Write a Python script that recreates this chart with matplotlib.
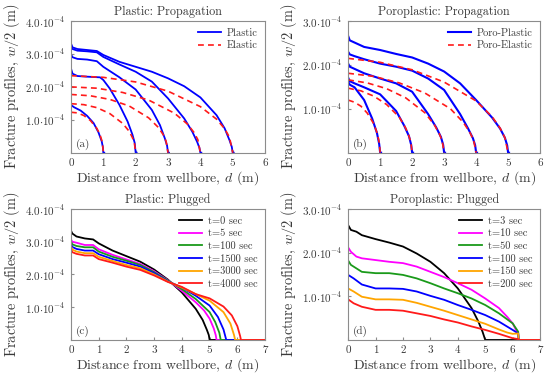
#perfis de fratura: plastico x elastico, propagacao e tamponamento
import matplotlib
matplotlib.use('Agg')
import matplotlib.pyplot as plt

plt.rcParams['font.family'] = 'serif'
plt.rcParams['font.serif'] = ['cmr10']
plt.rcParams['mathtext.fontset'] = 'cm'
plt.rcParams['axes.unicode_minus'] = False
plt.rcParams['axes.formatter.use_mathtext'] = True

ESCALA = 1e-4  # valores lidos em unidades de 1e-4 m

# (a) Plastic: Propagation
a_plastic_x = [
    [0, 0.1, 0.3, 0.5, 0.7, 0.85, 0.95, 0.99, 1.0, 1.03],
    [0, 0.05, 0.2, 0.5, 0.9, 1.0, 1.2, 1.5, 1.75, 1.9, 1.97, 2.0, 2.03],
    [0, 0.05, 0.2, 0.5, 0.8, 1.0, 1.5, 2.0, 2.5, 2.75, 2.9, 2.97, 3.0, 3.03],
    [0, 0.05, 0.2, 0.5, 0.8, 1.0, 1.5, 2.0, 2.5, 3.0, 3.5, 3.75, 3.9, 3.97, 4.0, 4.03],
    [0, 0.05, 0.2, 0.5, 0.8, 1.0, 1.5, 2.0, 2.5, 3.0, 3.5, 4.0, 4.5, 4.75, 4.9, 4.97, 5.0, 5.03],
]
a_plastic_y = [
    [1.45, 1.38, 1.28, 1.12, 0.9, 0.62, 0.35, 0.15, 0, 0],
    [2.56, 2.4, 2.33, 2.31, 2.29, 2.21, 1.95, 1.45, 0.95, 0.55, 0.3, 0, 0],
    [2.99, 2.9, 2.85, 2.83, 2.78, 2.61, 2.29, 1.92, 1.3, 0.84, 0.44, 0.22, 0, 0],
    [3.25, 3.15, 3.1, 3.08, 3.05, 2.91, 2.68, 2.46, 2.16, 1.65, 1.04, 0.64, 0.33, 0.15, 0, 0],
    [3.32, 3.2, 3.15, 3.12, 3.09, 2.97, 2.76, 2.61, 2.46, 2.26, 2.02, 1.68, 1.14, 0.74, 0.38, 0.18, 0, 0],
]
a_elastic_x = [
    [0, 0.2, 0.4, 0.6, 0.8, 0.9, 0.95, 0.98, 1.0],
    [0, 0.4, 0.8, 1.2, 1.6, 1.8, 1.9, 1.96, 2.0],
    [0, 0.6, 1.2, 1.8, 2.4, 2.7, 2.85, 2.94, 3.0],
    [0, 0.8, 1.6, 2.4, 3.2, 3.6, 3.8, 3.92, 4.0],
    [0, 1.0, 2.0, 3.0, 4.0, 4.5, 4.75, 4.9, 5.0],
]
a_elastic_y = [
    [1.23, 1.21, 1.13, 0.98, 0.74, 0.54, 0.38, 0.25, 0],
    [1.49, 1.46, 1.37, 1.19, 0.89, 0.65, 0.46, 0.30, 0],
    [1.77, 1.73, 1.62, 1.42, 1.06, 0.77, 0.55, 0.35, 0],
    [2.0, 1.96, 1.83, 1.6, 1.2, 0.87, 0.62, 0.4, 0],
    [2.34, 2.29, 2.15, 1.87, 1.4, 1.02, 0.73, 0.47, 0],
]

# (b) Poroplastic: Propagation
b_plastic_x = [
    [0, 0.05, 0.2, 0.5, 0.75, 0.9, 0.97, 1.0, 1.03],
    [0, 0.05, 0.2, 0.5, 1.0, 1.5, 1.75, 1.9, 1.97, 2.0, 2.03],
    [0, 0.05, 0.2, 0.5, 1.0, 1.5, 2.0, 2.5, 2.75, 2.9, 2.97, 3.0, 3.03],
    [0, 0.05, 0.2, 0.5, 1.0, 1.5, 2.0, 2.5, 3.0, 3.5, 3.75, 3.9, 3.97, 4.0, 4.03],
    [0, 0.05, 0.2, 0.5, 1.0, 1.5, 2.0, 2.5, 3.0, 3.5, 4.0, 4.5, 4.75, 4.9, 4.97, 5.0, 5.03],
]
b_plastic_y = [
    [1.62, 1.55, 1.49, 1.2, 0.78, 0.45, 0.2, 0, 0],
    [1.71, 1.63, 1.58, 1.49, 1.33, 0.95, 0.62, 0.38, 0.18, 0, 0],
    [2.03, 1.96, 1.91, 1.81, 1.69, 1.58, 1.39, 0.88, 0.58, 0.36, 0.18, 0, 0],
    [2.3, 2.24, 2.2, 2.13, 2.03, 1.96, 1.87, 1.69, 1.43, 0.88, 0.55, 0.33, 0.17, 0, 0],
    [2.66, 2.56, 2.51, 2.41, 2.34, 2.25, 2.17, 2.03, 1.85, 1.58, 1.2, 0.8, 0.55, 0.34, 0.17, 0, 0],
]
b_elastic_x = a_elastic_x
b_elastic_y = [
    [1.2, 1.15, 1.06, 0.9, 0.66, 0.46, 0.31, 0.19, 0],
    [1.47, 1.41, 1.29, 1.1, 0.81, 0.56, 0.38, 0.24, 0],
    [1.66, 1.59, 1.46, 1.25, 0.91, 0.63, 0.43, 0.27, 0],
    [1.81, 1.74, 1.59, 1.36, 1.0, 0.69, 0.47, 0.29, 0],
    [2.15, 2.06, 1.89, 1.61, 1.18, 0.82, 0.56, 0.34, 0],
]

# (c) Plastic: Plugged
c_labels = ['t=0 sec', 't=5 sec', 't=100 sec', 't=1500 sec', 't=3000 sec', 't=4000 sec']
c_x = [
    [0, 0.05, 0.2, 0.5, 0.8, 1.0, 1.5, 2.0, 2.5, 3.0, 3.5, 4.0, 4.5, 4.75, 4.9, 4.97, 5.0, 7.0],
    [0, 0.05, 0.2, 0.5, 0.8, 1.0, 1.5, 2.0, 2.5, 3.0, 3.5, 4.0, 4.5, 4.8, 5.0, 5.15, 5.22, 5.25, 7.0],
    [0, 0.05, 0.2, 0.5, 0.8, 1.0, 1.5, 2.0, 2.5, 3.0, 3.5, 4.0, 4.5, 5.0, 5.2, 5.35, 5.4, 7.0],
    [0, 0.05, 0.2, 0.5, 0.8, 1.0, 1.5, 2.0, 2.5, 3.0, 3.5, 4.0, 4.5, 5.0, 5.3, 5.5, 5.6, 7.0],
    [0, 0.05, 0.2, 0.5, 0.8, 1.0, 1.5, 2.0, 2.5, 3.0, 3.5, 4.0, 4.5, 5.0, 5.5, 5.75, 5.88, 5.92, 7.0],
    [0, 0.05, 0.2, 0.5, 0.8, 1.0, 1.5, 2.0, 2.5, 3.0, 3.5, 4.0, 4.5, 5.0, 5.5, 5.8, 6.0, 6.1, 6.13, 7.0],
]
c_y = [
    [3.34, 3.25, 3.16, 3.1, 3.07, 2.95, 2.73, 2.56, 2.39, 2.15, 1.84, 1.45, 0.95, 0.61, 0.31, 0.15, 0, 0],
    [3.07, 3.0, 2.97, 2.9, 2.9, 2.77, 2.6, 2.46, 2.32, 2.1, 1.82, 1.5, 1.15, 0.9, 0.65, 0.35, 0.15, 0, 0],
    [3.0, 2.92, 2.87, 2.83, 2.83, 2.7, 2.54, 2.42, 2.29, 2.07, 1.81, 1.55, 1.25, 0.85, 0.55, 0.22, 0, 0],
    [2.93, 2.84, 2.78, 2.73, 2.73, 2.62, 2.47, 2.36, 2.24, 2.04, 1.79, 1.6, 1.35, 1.05, 0.7, 0.32, 0, 0],
    [2.87, 2.76, 2.7, 2.65, 2.65, 2.54, 2.41, 2.29, 2.19, 2.0, 1.78, 1.6, 1.4, 1.2, 0.85, 0.5, 0.15, 0, 0],
    [2.77, 2.68, 2.63, 2.58, 2.58, 2.47, 2.36, 2.24, 2.14, 1.97, 1.77, 1.62, 1.4, 1.27, 1.02, 0.75, 0.42, 0.12, 0, 0],
]
c_cores = ['black', '#ff00ff', '#1a9a1a', '#0000ff', '#ffa500', '#ff1a1a']

# (d) Poroplastic: Plugged
d_labels = ['t=3 sec', 't=10 sec', 't=50 sec', 't=100 sec', 't=150 sec', 't=200 sec']
d_x = [
    [0, 0.1, 0.3, 0.5, 1.0, 1.5, 2.0, 2.5, 3.0, 3.5, 4.0, 4.5, 4.75, 4.9, 5.0, 7.0],
    [0, 0.1, 0.3, 0.5, 1.0, 1.5, 2.0, 2.5, 3.0, 3.5, 4.0, 4.5, 5.0, 5.5, 5.8, 6.0, 6.15, 6.2, 6.22, 7.0],
    [0, 0.1, 0.3, 0.5, 1.0, 1.5, 2.0, 2.5, 3.0, 3.5, 4.0, 4.5, 5.0, 5.5, 6.0, 6.2, 6.22, 7.0],
    [0, 0.2, 0.5, 1.0, 1.5, 2.0, 2.5, 3.0, 3.5, 4.0, 4.5, 5.0, 5.5, 6.0, 6.2, 6.22, 7.0],
    [0, 0.2, 0.5, 1.0, 1.5, 2.0, 2.5, 3.0, 3.5, 4.0, 4.5, 5.0, 5.5, 5.8, 6.0, 6.2, 6.22, 7.0],
    [0, 0.2, 0.5, 1.0, 1.5, 2.0, 2.5, 3.0, 3.5, 4.0, 4.5, 5.0, 5.5, 5.8, 6.0, 6.2, 6.22, 7.0],
]
d_y = [
    [2.63, 2.52, 2.48, 2.4, 2.31, 2.23, 2.14, 1.98, 1.79, 1.53, 1.18, 0.73, 0.42, 0.19, 0, 0],
    [2.12, 2.02, 1.91, 1.87, 1.83, 1.79, 1.76, 1.68, 1.56, 1.44, 1.3, 1.15, 0.95, 0.73, 0.53, 0.38, 0.19, 0.15, 0, 0],
    [1.82, 1.72, 1.64, 1.56, 1.53, 1.53, 1.49, 1.41, 1.3, 1.18, 1.07, 0.95, 0.8, 0.61, 0.38, 0.19, 0, 0],
    [1.49, 1.41, 1.27, 1.18, 1.18, 1.17, 1.11, 1.01, 0.92, 0.8, 0.69, 0.57, 0.42, 0.23, 0.15, 0, 0],
    [1.18, 1.11, 0.99, 0.93, 0.93, 0.92, 0.85, 0.76, 0.67, 0.57, 0.47, 0.37, 0.24, 0.17, 0.14, 0.15, 0, 0],
    [0.93, 0.84, 0.76, 0.69, 0.69, 0.67, 0.61, 0.55, 0.47, 0.4, 0.31, 0.23, 0.14, 0.08, 0.04, 0.02, 0, 0],
]

TEXTO = '#3a3a3a'
MOLDURA = '#8c8c8c'
AZUL = '#0000ff'
VERMELHO = '#ff1a1a'


def rotuloY(v):
    return r'$%.1f{\cdot}10^{-4}$' % v


def prepararEixo(ax, titulo, letra, xmax, ymax):
    ax.set_xlim(0, xmax)
    ax.set_ylim(0, ymax * ESCALA)
    ax.set_xticks(range(0, xmax + 1))
    ax.set_xticklabels([str(i) for i in range(0, xmax + 1)])
    yt = [v for v in range(1, ymax + 1)]
    ax.set_yticks([v * ESCALA for v in yt])
    ax.set_yticklabels([rotuloY(v) for v in yt])
    ax.tick_params(direction='in', length=2, color=MOLDURA, labelcolor=TEXTO, labelsize=8, pad=4)
    for s in ax.spines.values():
        s.set_color(MOLDURA)
        s.set_linewidth(0.8)
    ax.set_title(titulo, fontsize=8.7, color=TEXTO, pad=4)
    ax.set_xlabel(r'Distance from wellbore, $d$ (m)', fontsize=10, color=TEXTO, labelpad=1)
    ax.set_ylabel(r'Fracture profiles, $w/2$ (m)', fontsize=10.3, color=TEXTO, labelpad=2)
    ax.text(0.025, 0.045, letra, transform=ax.transAxes, fontsize=8, color=TEXTO)


fig = plt.figure(figsize=(5.5, 3.79), dpi=100)
axA = fig.add_axes([0.129, 0.597, 0.353, 0.3475])
axB = fig.add_axes([0.633, 0.597, 0.349, 0.3475])
axC = fig.add_axes([0.129, 0.103, 0.353, 0.3456])
axD = fig.add_axes([0.633, 0.103, 0.349, 0.3456])

# (a)
for i in range(len(a_plastic_x)):
    axA.plot(a_plastic_x[i], [v * ESCALA for v in a_plastic_y[i]], color=AZUL, lw=1.3,
             label='Plastic' if i == 0 else None)
for i in range(len(a_elastic_x)):
    axA.plot(a_elastic_x[i], [v * ESCALA for v in a_elastic_y[i]], color=VERMELHO, lw=1.2,
             ls=(0, (3.5, 2.5)), label='Elastic' if i == 0 else None)
prepararEixo(axA, 'Plastic: Propagation', '(a)', 6, 4)

# (b)
for i in range(len(b_plastic_x)):
    axB.plot(b_plastic_x[i], [v * ESCALA for v in b_plastic_y[i]], color=AZUL, lw=1.5,
             label='Poro-Plastic' if i == 0 else None)
for i in range(len(b_elastic_x)):
    axB.plot(b_elastic_x[i], [v * ESCALA for v in b_elastic_y[i]], color=VERMELHO, lw=1.2,
             ls=(0, (3.5, 2.5)), label='Poro-Elastic' if i == 0 else None)
prepararEixo(axB, 'Poroplastic: Propagation', '(b)', 6, 3)

# (c)
for i in range(len(c_x)):
    axC.plot(c_x[i], [v * ESCALA for v in c_y[i]], color=c_cores[i], lw=1.3, label=c_labels[i])
prepararEixo(axC, 'Plastic: Plugged', '(c)', 7, 4)

# (d)
for i in range(len(d_x)):
    axD.plot(d_x[i], [v * ESCALA for v in d_y[i]], color=c_cores[i], lw=1.3, label=d_labels[i])
prepararEixo(axD, 'Poroplastic: Plugged', '(d)', 7, 3)

for ax in [axA, axB, axC, axD]:
    leg = ax.legend(loc='upper right', frameon=False, fontsize=7.5, handlelength=2.2,
                    labelspacing=0.3, borderaxespad=0.3, handletextpad=0.6)
    for t in leg.get_texts():
        t.set_color(TEXTO)

fig.savefig('out.png', dpi=100)
